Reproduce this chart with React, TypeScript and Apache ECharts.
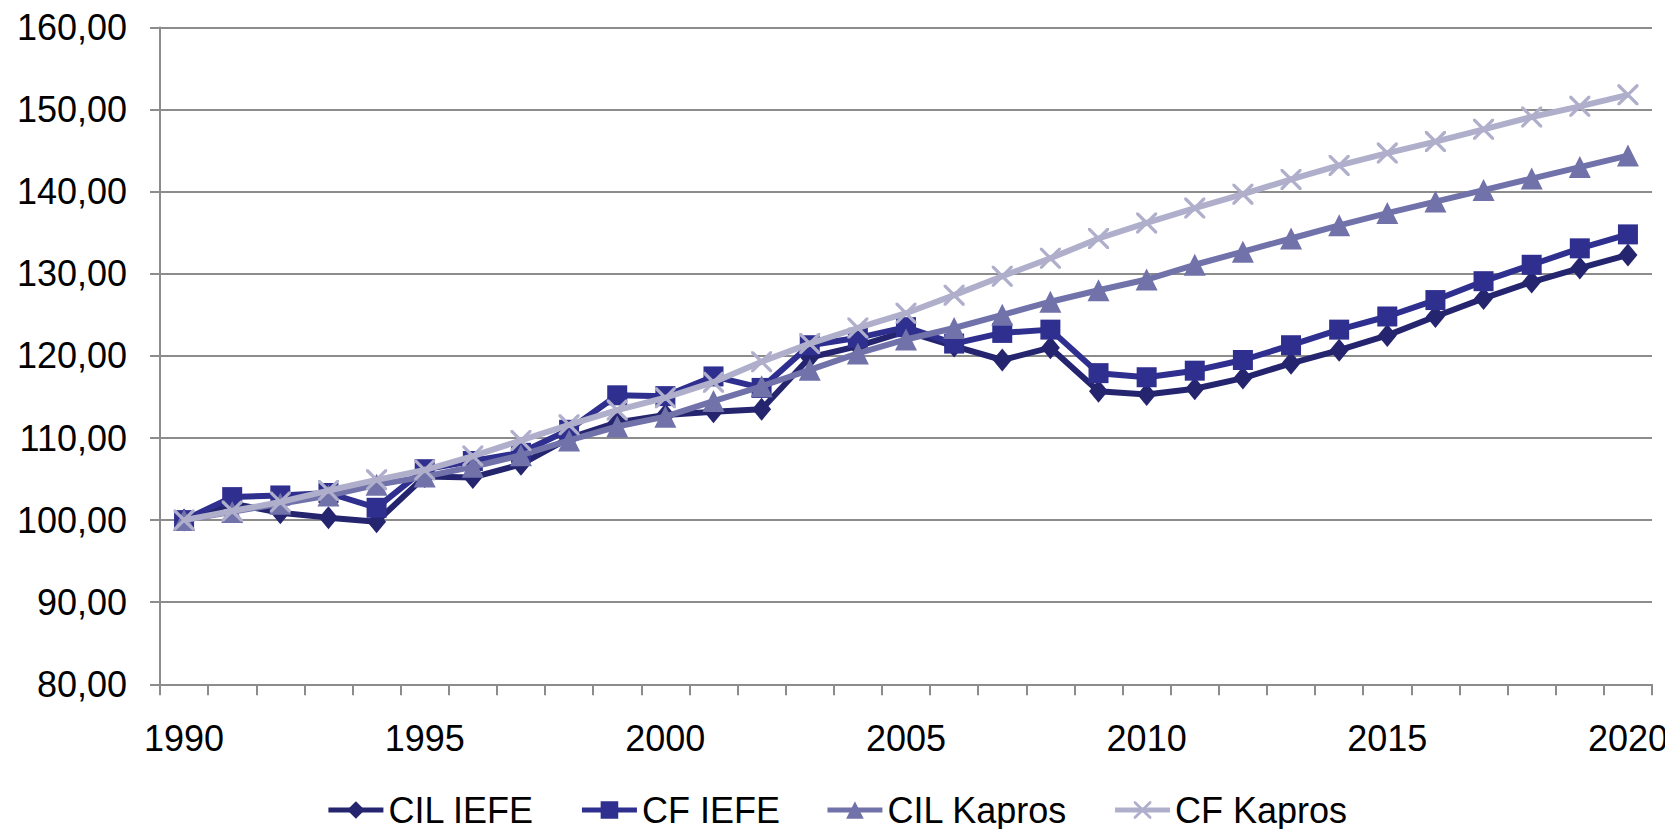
import React, { useEffect, useRef } from "react";
import * as echarts from "echarts";

const years: string[] = [];
for (let y = 1990; y <= 2020; y++) years.push(String(y));

const cilIefe = [100, 102.0, 100.9, 100.3, 99.8, 105.3, 105.2, 106.8, 110.0, 111.9, 112.8, 113.2, 113.5, 119.8, 121.2, 123.0, 121.2, 119.5, 121.0, 115.7, 115.3, 116.0, 117.3, 119.1, 120.7, 122.5, 124.8, 127.0, 129.0, 130.7, 132.3];
const cfIefe = [100, 102.8, 103.0, 103.3, 101.5, 106.2, 107.2, 108.2, 111.0, 115.2, 115.1, 117.5, 116.1, 121.3, 122.2, 123.5, 121.5, 122.8, 123.2, 117.9, 117.4, 118.2, 119.5, 121.3, 123.2, 124.8, 126.8, 129.1, 131.1, 133.1, 134.8];
const cilKapros = [100, 101.0, 102.0, 103.0, 104.3, 105.3, 106.5, 107.9, 109.7, 111.4, 112.6, 114.5, 116.3, 118.3, 120.3, 122.0, 123.4, 125.0, 126.6, 128.0, 129.3, 131.1, 132.7, 134.3, 135.9, 137.4, 138.8, 140.2, 141.6, 143.0, 144.4];
const cfKapros = [100, 101.1, 102.2, 103.6, 104.9, 106.1, 107.8, 109.7, 111.6, 113.4, 114.9, 116.8, 119.3, 121.5, 123.4, 125.2, 127.4, 129.7, 131.9, 134.3, 136.2, 138.0, 139.7, 141.5, 143.2, 144.7, 146.1, 147.6, 149.1, 150.4, 151.8];

const seriesNames = ["CIL IEFE", "CF IEFE", "CIL Kapros", "CF Kapros"];
const colors = ["#25256f", "#2f2f8f", "#7272ab", "#afafcc"];

const xSymbol =
  "path://M0,0 L2.2,0 L10,7.8 L17.8,0 L20,0 L20,2.2 L12.2,10 L20,17.8 L20,20 L17.8,20 L10,12.2 L2.2,20 L0,20 L0,17.8 L7.8,10 L0,2.2 Z";

export default function App() {
  const ref = useRef<HTMLDivElement>(null);
  useEffect(() => {
    if (!ref.current) return;
    const chart = echarts.init(ref.current, undefined, { renderer: "svg" });
    const font = "Liberation Sans, Arial, sans-serif";
    const data = [cilIefe, cfIefe, cilKapros, cfKapros];
    const symbols = ["diamond", "rect", "triangle", xSymbol];
    const sizes: any[] = [[19, 23], 20, 22, 21];
    chart.setOption({
      animation: false,
      color: colors,
      grid: { left: 160, right: 21, top: 27.5, bottom: 152.7, containLabel: false },
      xAxis: {
        type: "category",
        data: years,
        boundaryGap: true,
        axisLine: { lineStyle: { color: "#8c8c8c", width: 2 } },
        axisTick: { show: true, interval: 0, length: 11, lineStyle: { color: "#8c8c8c", width: 2 } },
        axisLabel: { interval: 4, margin: 36, color: "#000", fontSize: 36, fontFamily: font },
        splitLine: { show: false },
      },
      yAxis: {
        type: "value",
        min: 80,
        max: 160,
        interval: 10,
        axisLine: { show: true, lineStyle: { color: "#8c8c8c", width: 2 } },
        axisTick: { show: true, length: 10, lineStyle: { color: "#8c8c8c", width: 2 } },
        axisLabel: {
          margin: 33,
          color: "#000",
          fontSize: 36,
          fontFamily: font,
          formatter: (v: number) => v.toFixed(2).replace(".", ","),
        },
        splitLine: { show: true, lineStyle: { color: "#8c8c8c", width: 2 } },
      },
      legend: {
        top: 787,
        left: "center",
        itemWidth: 55,
        itemHeight: 22,
        itemGap: 45,
        lineStyle: { width: 5 },
        textStyle: { color: "#000", fontSize: 36, fontFamily: font },
        data: seriesNames,
      },
      series: seriesNames.map((name, i) => ({
        name,
        type: "line",
        data: data[i],
        symbol: symbols[i],
        symbolSize: sizes[i],
        showAllSymbol: true,
        lineStyle: { width: 6, color: colors[i] },
        itemStyle: { color: colors[i] },
        z: 2 + i,
      })),
    });
    return () => chart.dispose();
  }, []);
  return <div ref={ref} style={{ width: 1673, height: 837, margin: -8 }} />;
}
